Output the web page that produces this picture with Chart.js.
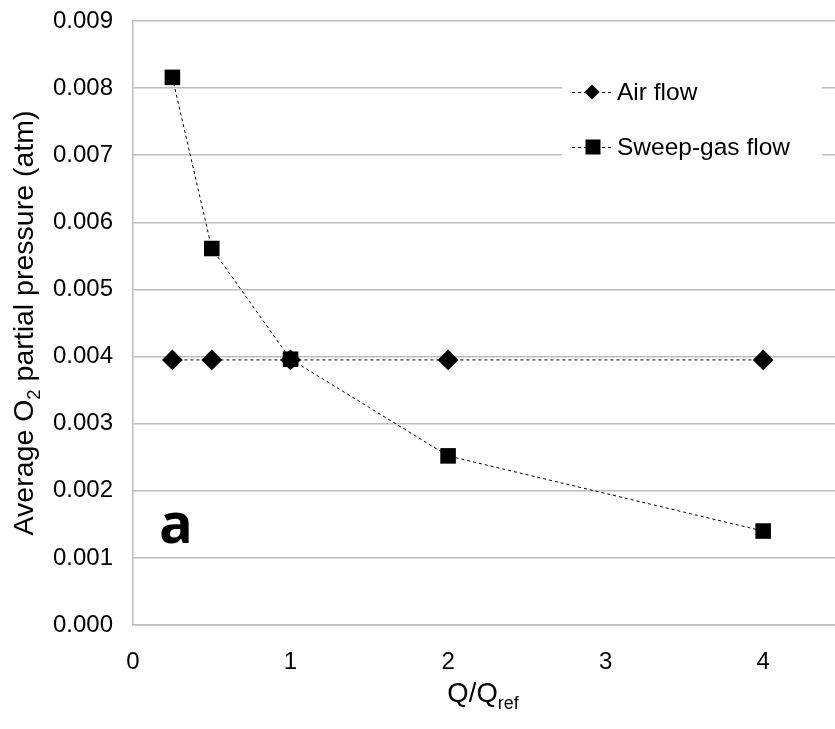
<!DOCTYPE html>
<html>
<head>
<meta charset="utf-8">
<title>Average O2 partial pressure</title>
<script src="https://cdn.jsdelivr.net/npm/chart.js@4/dist/chart.umd.min.js"></script>
<style>
  html, body { margin: 0; padding: 0; background: #fff; }
  #wrap { width: 835px; height: 729px; }
</style>
</head>
<body>
<div id="wrap"><canvas id="chart" width="835" height="729"></canvas></div>
<script>
// data
const flowRatio = [0.25, 0.5, 1, 2, 4];
const airFlow = [0.00395, 0.00395, 0.00395, 0.00395, 0.00395];
const sweepGasFlow = [0.00816, 0.00561, 0.00396, 0.00252, 0.00140];
const xTickValues = [0, 1, 2, 3, 4];
const yTickValues = [0, 0.001, 0.002, 0.003, 0.004, 0.005, 0.006, 0.007, 0.008, 0.009];
const seriesNames = ['Air flow', 'Sweep-gas flow'];

const FONT = '"Liberation Sans", Arial, sans-serif';
const GRID = '#bcbcbc';

const toPoints = (ys) => flowRatio.map((x, i) => ({ x: x, y: ys[i] }));

// draws text with a lowered, smaller part (O2, Qref)
function subText(ctx, parts, size) {
    let total = 0;
    parts.forEach(p => {
        ctx.font = (p.sub ? size * 0.65 : size) + 'px ' + FONT;
        p.w = ctx.measureText(p.t).width;
        total += p.w;
    });
    let x = -total / 2;
    parts.forEach(p => {
        ctx.font = (p.sub ? size * 0.65 : size) + 'px ' + FONT;
        ctx.fillText(p.t, x, p.sub ? size * 0.25 : 0);
        x += p.w;
    });
}

const extras = {
    id: 'extras',
    afterDraw(chart) {
        const ctx = chart.ctx;
        const area = chart.chartArea;
        ctx.save();
        ctx.fillStyle = '#000';
        ctx.textBaseline = 'alphabetic';
        ctx.textAlign = 'left';

        // y axis title
        ctx.save();
        ctx.translate(33, (area.top + area.bottom) / 2);
        ctx.rotate(-Math.PI / 2);
        subText(ctx, [{ t: 'Average O' }, { t: '2', sub: true }, { t: ' partial pressure (atm)' }], 28.5);
        ctx.restore();

        // x axis title
        ctx.save();
        ctx.translate(483, 702);
        subText(ctx, [{ t: 'Q/Q' }, { t: 'ref', sub: true }], 27.5);
        ctx.restore();

        // panel letter
        ctx.font = 'bold 56px "Open Sans", ' + FONT;
        ctx.fillText('a', 159, 543);

        // legend box
        ctx.fillStyle = '#fff';
        ctx.fillRect(562, 60, 260, 112);
        const rows = [
            { name: seriesNames[0], y: 92, style: 'diamond' },
            { name: seriesNames[1], y: 147, style: 'square' }
        ];
        rows.forEach(r => {
            ctx.strokeStyle = '#000';
            ctx.lineWidth = 1;
            ctx.setLineDash([3, 3]);
            ctx.beginPath();
            ctx.moveTo(572, r.y + 0.5);
            ctx.lineTo(612, r.y + 0.5);
            ctx.stroke();
            ctx.setLineDash([]);
            ctx.fillStyle = '#000';
            ctx.beginPath();
            if (r.style === 'diamond') {
                ctx.moveTo(592 - 7.5, r.y);
                ctx.lineTo(592, r.y - 7.5);
                ctx.lineTo(592 + 7.5, r.y);
                ctx.lineTo(592, r.y + 7.5);
                ctx.closePath();
            } else {
                ctx.rect(593 - 7.5, r.y - 7.5, 15, 15);
            }
            ctx.fill();
            ctx.font = '24.5px ' + FONT;
            ctx.textBaseline = 'middle';
            ctx.fillText(r.name, 617, r.y + 1);
            ctx.textBaseline = 'alphabetic';
        });
        ctx.restore();
    }
};

new Chart(document.getElementById('chart').getContext('2d'), {
    type: 'scatter',
    data: {
        datasets: [
            {
                label: seriesNames[0],
                data: toPoints(airFlow),
                showLine: true,
                order: 2,
                borderColor: '#000',
                borderWidth: 1,
                borderDash: [3, 3],
                pointStyle: 'rectRot',
                pointRadius: 10.4,
                pointBackgroundColor: '#000',
                pointBorderColor: '#000',
                pointBorderWidth: 0
            },
            {
                label: seriesNames[1],
                data: toPoints(sweepGasFlow),
                showLine: true,
                order: 1,
                borderColor: '#000',
                borderWidth: 1,
                borderDash: [3, 3],
                pointStyle: 'rect',
                pointRadius: 11,
                pointBackgroundColor: '#000',
                pointBorderColor: '#000',
                pointBorderWidth: 0
            }
        ]
    },
    options: {
        responsive: false,
        animation: false,
        layout: { autoPadding: false, padding: { top: 21, right: 0, bottom: 0, left: 0 } },
        plugins: {
            legend: { display: false },
            tooltip: { enabled: false }
        },
        scales: {
            x: {
                type: 'linear',
                min: 0,
                max: 4.456,
                afterBuildTicks: (scale) => { scale.ticks = xTickValues.map(v => ({ value: v })); },
                afterFit: (scale) => { scale.height = 104; },
                grid: { display: false, drawTicks: false },
                border: { display: true, color: GRID, width: 1.5 },
                ticks: {
                    color: '#000',
                    padding: 23,
                    maxRotation: 0,
                    font: { family: FONT, size: 24 },
                    callback: (v) => String(v)
                }
            },
            y: {
                type: 'linear',
                min: 0,
                max: 0.009,
                afterBuildTicks: (scale) => { scale.ticks = yTickValues.map(v => ({ value: v })); },
                afterFit: (scale) => {
                    scale.width = 133;
                    scale.paddingTop = 14;
                    scale.paddingBottom = 14;
                },
                grid: { color: GRID, lineWidth: 1.5, drawTicks: false },
                border: { display: true, color: GRID, width: 1.5 },
                ticks: {
                    color: '#000',
                    padding: 20,
                    font: { family: FONT, size: 24 },
                    callback: (v) => v.toFixed(3)
                }
            }
        }
    },
    plugins: [extras]
});
</script>
</body>
</html>
